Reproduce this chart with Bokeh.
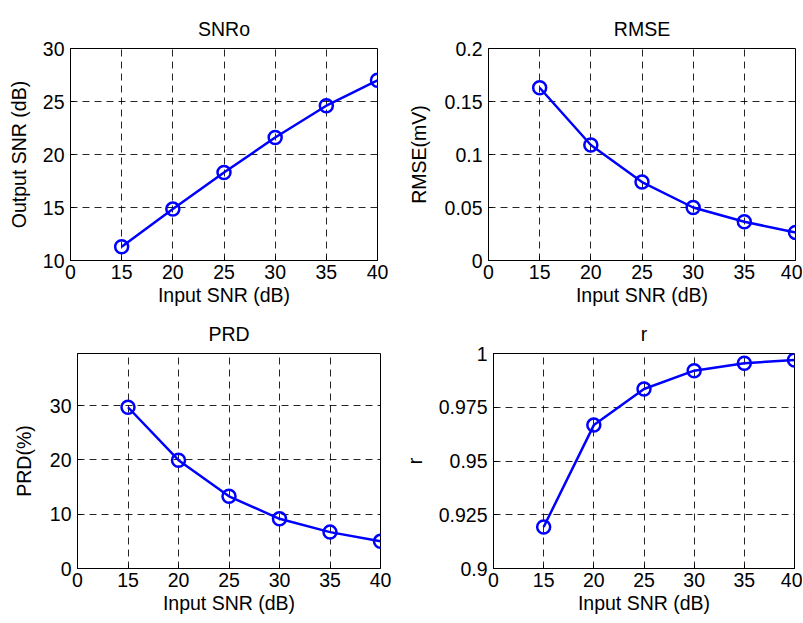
from bokeh.plotting import figure
from bokeh.layouts import column, row
from bokeh.models import FixedTicker, Range1d
from bokeh.embed import file_html
from bokeh.resources import INLINE

# ---- data ----
input_snr = [15, 20, 25, 30, 35, 40]
snr_out = [11.3, 14.85, 18.3, 21.6, 24.6, 27.0]
rmse = [0.163, 0.109, 0.074, 0.050, 0.0365, 0.0265]
prd = [29.7, 19.95, 13.3, 9.15, 6.7, 5.0]
r_vals = [0.9193, 0.9667, 0.9835, 0.9920, 0.9955, 0.9970]

x_ticks = [10, 15, 20, 25, 30, 35, 40]
x_tick_labels = ["0", "15", "20", "25", "30", "35", "40"]

snr_ticks = [10, 15, 20, 25, 30]
snr_labels = ["10", "15", "20", "25", "30"]
rmse_ticks = [0, 0.05, 0.1, 0.15, 0.2]
rmse_labels = ["0", "0.05", "0.1", "0.15", "0.2"]
prd_ticks = [0, 10, 20, 30]
prd_labels = ["0", "10", "20", "30"]
r_ticks = [0.9, 0.925, 0.95, 0.975, 1.0]
r_labels = ["0.9", "0.925", "0.95", "0.975", "1"]

FONT = "Liberation Sans"
FS = "19.5px"
BLUE = "#0000ff"


def make(title, ylabel, yr, yticks, ylabels, width, height, mbl, mbr, mbt, mbb,
         ystandoff):
    p = figure(width=width, height=height, output_backend="svg",
               toolbar_location=None, x_range=Range1d(10, 40),
               y_range=Range1d(*yr), min_border_left=mbl,
               min_border_right=mbr, min_border_top=mbt,
               min_border_bottom=mbb, title=title)
    p.title.align = "center"
    p.title.text_font = FONT
    p.title.text_font_size = FS
    p.title.text_font_style = "normal"
    p.title.text_color = "black"
    p.title.standoff = 17
    p.outline_line_color = "black"
    p.outline_line_alpha = 1
    p.outline_line_width = 1
    p.background_fill_color = "white"
    p.border_fill_color = "white"

    p.xaxis.ticker = FixedTicker(ticks=x_ticks)
    p.xaxis.major_label_overrides = dict(zip(x_ticks, x_tick_labels))
    p.yaxis.ticker = FixedTicker(ticks=yticks)
    p.yaxis.major_label_overrides = dict(zip(yticks, ylabels))
    p.xaxis.axis_label = "Input SNR (dB)"
    p.yaxis.axis_label = ylabel
    for ax in (p.xaxis[0], p.yaxis[0]):
        ax.axis_label_text_font = FONT
        ax.axis_label_text_font_size = FS
        ax.axis_label_text_font_style = "normal"
        ax.axis_label_text_color = "black"
        ax.major_label_text_font = FONT
        ax.major_label_text_font_size = FS
        ax.major_label_text_color = "black"
        ax.axis_line_color = "black"
        ax.axis_line_width = 1
        ax.major_tick_in = 4
        ax.major_tick_out = 0
        ax.major_tick_line_color = "black"
        ax.minor_tick_line_color = None
    p.xaxis.major_label_standoff = 4
    p.xaxis.axis_label_standoff = 2
    p.yaxis.major_label_standoff = 6
    p.yaxis.axis_label_standoff = ystandoff

    for g in (p.xgrid[0], p.ygrid[0]):
        g.grid_line_color = "black"
        g.grid_line_alpha = 0.85
        g.grid_line_dash = "7 5"
        g.grid_line_width = 1
    return p


def draw(p, ys):
    p.line(input_snr, ys, line_color=BLUE, line_width=2.5)
    p.scatter(input_snr, ys, marker="circle", size=13, fill_color=None,
              line_color=BLUE, line_width=2.5)


p1 = make("SNRo", "Output SNR (dB)", (10, 30), snr_ticks, snr_labels,
          400, 310, 70, 23, 47, 50, 10)
draw(p1, snr_out)
p2 = make("RMSE", "RMSE(mV)", (0, 0.2), rmse_ticks, rmse_labels,
          402, 310, 88, 7, 48, 47, 12)
draw(p2, rmse)
p3 = make("PRD", "PRD(%)", (0, 39.6), prd_ticks, prd_labels,
          400, 312, 77, 20, 42, 54, 12)
draw(p3, prd)
p4 = make("r", "r", (0.9, 1.0), r_ticks, r_labels,
          402, 312, 88, 8, 43, 53, 10)
draw(p4, r_vals)

layout = column(row(p1, p2), row(p3, p4))
open("out.html", "w").write(file_html(layout, INLINE))
